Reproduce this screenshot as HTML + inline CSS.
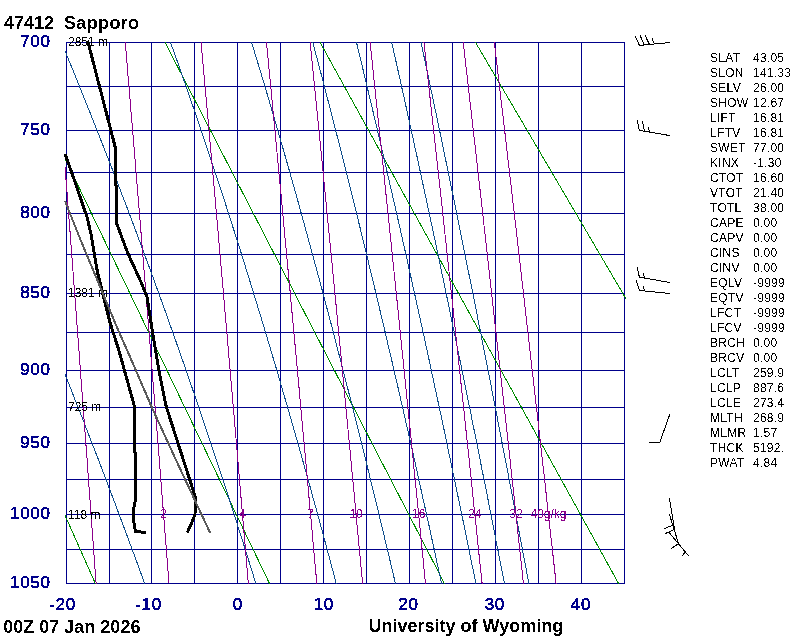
<!DOCTYPE html><html><head><meta charset="utf-8"><title>47412 Sapporo</title><style>
html,body{margin:0;padding:0;background:#fff}body{width:800px;height:640px;position:relative;overflow:hidden;font-family:"Liberation Sans",sans-serif}
.t{position:absolute;white-space:pre;line-height:1}
.b{font-weight:bold;font-size:18px;color:#000}
.a{font-size:17px;color:#00008b;letter-spacing:0.7px;-webkit-text-stroke:0.45px #00008b}
.i{font-size:12px;color:#000;letter-spacing:0.25px}
</style></head><body>
<svg width="800" height="640" viewBox="0 0 800 640" style="position:absolute;left:0;top:0">
<defs><filter id="thr" x="0" y="0" width="100%" height="100%" color-interpolation-filters="sRGB"><feComponentTransfer><feFuncA type="discrete" tableValues="0 1"/></feComponentTransfer></filter><clipPath id="c"><rect x="65" y="42" width="561" height="542"/></clipPath></defs>
<g fill="#00008b" shape-rendering="crispEdges">
<rect x="66" y="42" width="1" height="542"/>
<rect x="109" y="42" width="1" height="542"/>
<rect x="151" y="42" width="1" height="542"/>
<rect x="194" y="42" width="1" height="542"/>
<rect x="237" y="42" width="1" height="542"/>
<rect x="280" y="42" width="1" height="542"/>
<rect x="323" y="42" width="1" height="542"/>
<rect x="366" y="42" width="1" height="542"/>
<rect x="409" y="42" width="1" height="542"/>
<rect x="452" y="42" width="1" height="542"/>
<rect x="495" y="42" width="1" height="542"/>
<rect x="538" y="42" width="1" height="542"/>
<rect x="581" y="42" width="1" height="542"/>
<rect x="624" y="42" width="1" height="542"/>
<rect x="66" y="42" width="559" height="1"/>
<rect x="66" y="86" width="559" height="1"/>
<rect x="66" y="130" width="559" height="1"/>
<rect x="66" y="172" width="559" height="1"/>
<rect x="66" y="213" width="559" height="1"/>
<rect x="66" y="254" width="559" height="1"/>
<rect x="66" y="293" width="559" height="1"/>
<rect x="66" y="332" width="559" height="1"/>
<rect x="66" y="370" width="559" height="1"/>
<rect x="66" y="407" width="559" height="1"/>
<rect x="66" y="443" width="559" height="1"/>
<rect x="66" y="479" width="559" height="1"/>
<rect x="66" y="514" width="559" height="1"/>
<rect x="66" y="549" width="559" height="1"/>
<rect x="66" y="583" width="559" height="1"/>
</g>
<g clip-path="url(#c)" fill="none" stroke-width="1" shape-rendering="crispEdges">
<polyline points="-153.9,24.3 101.3,596.8" stroke="#008b00" stroke-width="1" />
<polyline points="0.5,24.3 275.9,596.8" stroke="#008b00" stroke-width="1" />
<polyline points="155.7,24.3 451.3,596.8" stroke="#008b00" stroke-width="1" />
<polyline points="310.1,24.3 625.9,596.8" stroke="#008b00" stroke-width="1" />
<polyline points="464.9,24.3 800.9,596.8" stroke="#008b00" stroke-width="1" />
<polyline points="619.3,24.3 975.4,596.8" stroke="#008b00" stroke-width="1" />
<polyline points="149.4,596.8 147.0,590.1 144.6,583.4 142.1,576.6 139.7,569.8 137.2,563.1 134.7,556.2 132.2,549.4 129.6,542.6 127.1,535.7 124.5,528.8 121.9,521.8 119.3,514.9 116.7,507.9 114.1,500.9 111.4,493.9 108.7,486.8 106.1,479.7 103.3,472.6 100.6,465.5 97.9,458.3 95.1,451.1 92.3,443.9 89.5,436.7 86.7,429.4 83.9,422.1 81.0,414.8 78.1,407.4 75.2,400.1 72.3,392.7 69.4,385.2 66.4,377.7 63.4,370.2 60.4,362.7 57.4,355.2 54.4,347.6 51.3,340.0 48.3,332.3 45.1,324.6 42.0,316.9 38.9,309.2 35.7,301.4 32.5,293.6 29.3,285.7 26.1,277.9 22.8,270.0 19.5,262.0 16.2,254.0 12.9,246.0 9.6,238.0 6.2,229.9 2.8,221.8 -0.6,213.6 -4.0,205.4 -7.5,197.2 -11.0,189.0 -14.5,180.7 -18.0,172.3 -21.6,163.9 -25.2,155.5 -28.8,147.1 -32.4,138.6 -36.1,130.0 -39.8,121.5 -43.5,112.8 -47.2,104.2 -51.0,95.5 -54.8,86.7 -58.6,77.9 -62.4,69.1 -66.3,60.2 -70.2,51.3 -74.1,42.4 -78.1,33.3 -82.0,24.3" stroke="#104e8b" stroke-width="1" />
<polyline points="259.9,596.8 257.9,590.1 255.8,583.4 253.7,576.6 251.6,569.8 249.5,563.1 247.4,556.2 245.2,549.4 243.1,542.6 240.9,535.7 238.7,528.8 236.5,521.8 234.3,514.9 232.0,507.9 229.8,500.9 227.5,493.9 225.2,486.8 222.9,479.7 220.6,472.6 218.2,465.5 215.9,458.3 213.5,451.1 211.1,443.9 208.7,436.7 206.2,429.4 203.8,422.1 201.3,414.8 198.8,407.4 196.3,400.1 193.8,392.7 191.2,385.2 188.6,377.7 186.1,370.2 183.4,362.7 180.8,355.2 178.1,347.6 175.5,340.0 172.7,332.3 170.0,324.6 167.3,316.9 164.5,309.2 161.7,301.4 158.9,293.6 156.0,285.7 153.2,277.9 150.3,270.0 147.3,262.0 144.4,254.0 141.4,246.0 138.4,238.0 135.4,229.9 132.4,221.8 129.3,213.6 126.2,205.4 123.0,197.2 119.9,189.0 116.7,180.7 113.5,172.3 110.2,163.9 106.9,155.5 103.6,147.1 100.3,138.6 96.9,130.0 93.5,121.5 90.1,112.8 86.6,104.2 83.1,95.5 79.6,86.7 76.1,77.9 72.5,69.1 68.8,60.2 65.2,51.3 61.5,42.4 57.7,33.3 54.0,24.3" stroke="#104e8b" stroke-width="1" />
<polyline points="339.7,596.8 338.0,590.1 336.2,583.4 334.4,576.6 332.6,569.8 330.8,563.1 329.0,556.2 327.1,549.4 325.3,542.6 323.4,535.7 321.6,528.8 319.7,521.8 317.8,514.9 315.9,507.9 313.9,500.9 312.0,493.9 310.1,486.8 308.1,479.7 306.1,472.6 304.1,465.5 302.1,458.3 300.1,451.1 298.1,443.9 296.0,436.7 293.9,429.4 291.8,422.1 289.7,414.8 287.6,407.4 285.5,400.1 283.3,392.7 281.2,385.2 279.0,377.7 276.8,370.2 274.6,362.7 272.3,355.2 270.1,347.6 267.8,340.0 265.5,332.3 263.2,324.6 260.9,316.9 258.5,309.2 256.1,301.4 253.7,293.6 251.3,285.7 248.9,277.9 246.4,270.0 244.0,262.0 241.5,254.0 238.9,246.0 236.4,238.0 233.8,229.9 231.2,221.8 228.6,213.6 226.0,205.4 223.3,197.2 220.6,189.0 217.9,180.7 215.1,172.3 212.4,163.9 209.6,155.5 206.8,147.1 203.9,138.6 201.0,130.0 198.1,121.5 195.2,112.8 192.2,104.2 189.2,95.5 186.2,86.7 183.1,77.9 180.0,69.1 176.9,60.2 173.7,51.3 170.5,42.4 167.3,33.3 164.0,24.3" stroke="#104e8b" stroke-width="1" />
<polyline points="398.5,596.8 396.9,590.1 395.4,583.4 393.8,576.6 392.2,569.8 390.6,563.1 389.0,556.2 387.3,549.4 385.7,542.6 384.1,535.7 382.4,528.8 380.7,521.8 379.1,514.9 377.4,507.9 375.7,500.9 374.0,493.9 372.3,486.8 370.5,479.7 368.8,472.6 367.0,465.5 365.3,458.3 363.5,451.1 361.7,443.9 359.9,436.7 358.1,429.4 356.3,422.1 354.4,414.8 352.6,407.4 350.7,400.1 348.8,392.7 346.9,385.2 345.0,377.7 343.1,370.2 341.2,362.7 339.2,355.2 337.2,347.6 335.3,340.0 333.3,332.3 331.3,324.6 329.2,316.9 327.2,309.2 325.1,301.4 323.1,293.6 321.0,285.7 318.9,277.9 316.7,270.0 314.6,262.0 312.4,254.0 310.2,246.0 308.0,238.0 305.8,229.9 303.6,221.8 301.3,213.6 299.1,205.4 296.8,197.2 294.5,189.0 292.1,180.7 289.8,172.3 287.4,163.9 285.0,155.5 282.6,147.1 280.1,138.6 277.7,130.0 275.2,121.5 272.7,112.8 270.1,104.2 267.6,95.5 265.0,86.7 262.4,77.9 259.7,69.1 257.0,60.2 254.3,51.3 251.6,42.4 248.9,33.3 246.1,24.3" stroke="#104e8b" stroke-width="1" />
<polyline points="444.4,596.8 443.0,590.1 441.5,583.4 440.1,576.6 438.6,569.8 437.1,563.1 435.7,556.2 434.2,549.4 432.7,542.6 431.2,535.7 429.7,528.8 428.2,521.8 426.6,514.9 425.1,507.9 423.5,500.9 422.0,493.9 420.4,486.8 418.8,479.7 417.3,472.6 415.7,465.5 414.1,458.3 412.5,451.1 410.8,443.9 409.2,436.7 407.6,429.4 405.9,422.1 404.2,414.8 402.6,407.4 400.9,400.1 399.2,392.7 397.5,385.2 395.7,377.7 394.0,370.2 392.3,362.7 390.5,355.2 388.7,347.6 387.0,340.0 385.2,332.3 383.4,324.6 381.5,316.9 379.7,309.2 377.9,301.4 376.0,293.6 374.1,285.7 372.2,277.9 370.3,270.0 368.4,262.0 366.5,254.0 364.6,246.0 362.6,238.0 360.6,229.9 358.6,221.8 356.6,213.6 354.6,205.4 352.6,197.2 350.5,189.0 348.4,180.7 346.4,172.3 344.2,163.9 342.1,155.5 340.0,147.1 337.8,138.6 335.6,130.0 333.4,121.5 331.2,112.8 329.0,104.2 326.7,95.5 324.5,86.7 322.2,77.9 319.8,69.1 317.5,60.2 315.1,51.3 312.8,42.4 310.4,33.3 307.9,24.3" stroke="#104e8b" stroke-width="1" />
<polyline points="478.5,596.8 477.2,590.1 475.8,583.4 474.5,576.6 473.1,569.8 471.7,563.1 470.3,556.2 468.9,549.4 467.5,542.6 466.1,535.7 464.7,528.8 463.3,521.8 461.8,514.9 460.4,507.9 458.9,500.9 457.5,493.9 456.0,486.8 454.5,479.7 453.0,472.6 451.6,465.5 450.0,458.3 448.5,451.1 447.0,443.9 445.5,436.7 444.0,429.4 442.4,422.1 440.9,414.8 439.3,407.4 437.7,400.1 436.1,392.7 434.5,385.2 432.9,377.7 431.3,370.2 429.7,362.7 428.1,355.2 426.4,347.6 424.8,340.0 423.1,332.3 421.4,324.6 419.7,316.9 418.0,309.2 416.3,301.4 414.6,293.6 412.8,285.7 411.1,277.9 409.3,270.0 407.6,262.0 405.8,254.0 404.0,246.0 402.2,238.0 400.4,229.9 398.5,221.8 396.7,213.6 394.8,205.4 392.9,197.2 391.0,189.0 389.1,180.7 387.2,172.3 385.3,163.9 383.3,155.5 381.4,147.1 379.4,138.6 377.4,130.0 375.4,121.5 373.3,112.8 371.3,104.2 369.2,95.5 367.1,86.7 365.0,77.9 362.9,69.1 360.8,60.2 358.6,51.3 356.5,42.4 354.3,33.3 352.1,24.3" stroke="#104e8b" stroke-width="1" />
<polyline points="507.0,596.8 505.7,590.1 504.4,583.4 503.1,576.6 501.8,569.8 500.4,563.1 499.1,556.2 497.8,549.4 496.4,542.6 495.1,535.7 493.7,528.8 492.4,521.8 491.0,514.9 489.6,507.9 488.3,500.9 486.9,493.9 485.5,486.8 484.1,479.7 482.6,472.6 481.2,465.5 479.8,458.3 478.4,451.1 476.9,443.9 475.5,436.7 474.0,429.4 472.5,422.1 471.1,414.8 469.6,407.4 468.1,400.1 466.6,392.7 465.1,385.2 463.5,377.7 462.0,370.2 460.5,362.7 458.9,355.2 457.4,347.6 455.8,340.0 454.2,332.3 452.6,324.6 451.0,316.9 449.4,309.2 447.8,301.4 446.2,293.6 444.5,285.7 442.9,277.9 441.2,270.0 439.6,262.0 437.9,254.0 436.2,246.0 434.5,238.0 432.8,229.9 431.0,221.8 429.3,213.6 427.5,205.4 425.8,197.2 424.0,189.0 422.2,180.7 420.4,172.3 418.6,163.9 416.8,155.5 414.9,147.1 413.1,138.6 411.2,130.0 409.3,121.5 407.4,112.8 405.5,104.2 403.6,95.5 401.6,86.7 399.7,77.9 397.7,69.1 395.7,60.2 393.7,51.3 391.7,42.4 389.6,33.3 387.6,24.3" stroke="#104e8b" stroke-width="1" />
<polyline points="531.3,596.8 530.0,590.1 528.8,583.4 527.5,576.6 526.3,569.8 525.0,563.1 523.7,556.2 522.4,549.4 521.1,542.6 519.8,535.7 518.5,528.8 517.2,521.8 515.9,514.9 514.6,507.9 513.2,500.9 511.9,493.9 510.6,486.8 509.2,479.7 507.9,472.6 506.5,465.5 505.1,458.3 503.7,451.1 502.3,443.9 500.9,436.7 499.5,429.4 498.1,422.1 496.7,414.8 495.3,407.4 493.8,400.1 492.4,392.7 491.0,385.2 489.5,377.7 488.0,370.2 486.5,362.7 485.1,355.2 483.6,347.6 482.1,340.0 480.6,332.3 479.0,324.6 477.5,316.9 476.0,309.2 474.4,301.4 472.9,293.6 471.3,285.7 469.7,277.9 468.1,270.0 466.5,262.0 464.9,254.0 463.3,246.0 461.7,238.0 460.0,229.9 458.4,221.8 456.7,213.6 455.1,205.4 453.4,197.2 451.7,189.0 450.0,180.7 448.3,172.3 446.5,163.9 444.8,155.5 443.0,147.1 441.3,138.6 439.5,130.0 437.7,121.5 435.9,112.8 434.1,104.2 432.3,95.5 430.4,86.7 428.5,77.9 426.7,69.1 424.8,60.2 422.9,51.3 421.0,42.4 419.0,33.3 417.1,24.3" stroke="#104e8b" stroke-width="1" />
<polyline points="54.0,24.3 55.4,42.4 56.8,60.2 58.2,77.9 59.6,95.5 60.9,112.8 62.2,130.0 63.5,147.1 64.8,163.9 66.1,180.7 67.4,197.2 68.6,213.6 69.9,229.9 71.1,246.0 72.3,262.0 73.5,277.9 74.7,293.6 75.9,309.2 77.0,324.6 78.2,340.0 79.3,355.2 80.4,370.2 81.5,385.2 82.6,400.1 83.7,414.8 84.8,429.4 85.9,443.9 87.0,458.3 88.0,472.6 89.0,486.8 90.1,500.9 91.1,514.9 92.1,528.8 93.1,542.6 94.1,556.2 95.1,569.8 96.1,583.4 97.1,596.8" stroke="#8b008b" stroke-width="1" />
<polyline points="123.7,24.3 125.3,42.4 126.8,60.2 128.2,77.9 129.7,95.5 131.1,112.8 132.6,130.0 134.0,147.1 135.4,163.9 136.7,180.7 138.1,197.2 139.5,213.6 140.8,229.9 142.1,246.0 143.4,262.0 144.7,277.9 146.0,293.6 147.2,309.2 148.5,324.6 149.7,340.0 150.9,355.2 152.1,370.2 153.3,385.2 154.5,400.1 155.7,414.8 156.9,429.4 158.0,443.9 159.2,458.3 160.3,472.6 161.4,486.8 162.5,500.9 163.6,514.9 164.7,528.8 165.8,542.6 166.9,556.2 167.9,569.8 169.0,583.4 170.0,596.8" stroke="#8b008b" stroke-width="1" />
<polyline points="199.5,24.3 201.1,42.4 202.7,60.2 204.3,77.9 205.9,95.5 207.5,112.8 209.0,130.0 210.5,147.1 212.0,163.9 213.5,180.7 215.0,197.2 216.4,213.6 217.9,229.9 219.3,246.0 220.7,262.0 222.1,277.9 223.5,293.6 224.8,309.2 226.2,324.6 227.5,340.0 228.8,355.2 230.1,370.2 231.4,385.2 232.7,400.1 234.0,414.8 235.2,429.4 236.5,443.9 237.7,458.3 238.9,472.6 240.1,486.8 241.3,500.9 242.5,514.9 243.7,528.8 244.9,542.6 246.0,556.2 247.2,569.8 248.3,583.4 249.5,596.8" stroke="#8b008b" stroke-width="1" />
<polyline points="264.7,24.3 266.5,42.4 268.2,60.2 269.9,77.9 271.6,95.5 273.2,112.8 274.9,130.0 276.5,147.1 278.1,163.9 279.7,180.7 281.3,197.2 282.8,213.6 284.3,229.9 285.8,246.0 287.3,262.0 288.8,277.9 290.3,293.6 291.7,309.2 293.2,324.6 294.6,340.0 296.0,355.2 297.4,370.2 298.8,385.2 300.1,400.1 301.5,414.8 302.8,429.4 304.2,443.9 305.5,458.3 306.8,472.6 308.1,486.8 309.3,500.9 310.6,514.9 311.9,528.8 313.1,542.6 314.3,556.2 315.6,569.8 316.8,583.4 318.0,596.8" stroke="#8b008b" stroke-width="1" />
<polyline points="308.3,24.3 310.1,42.4 311.9,60.2 313.7,77.9 315.5,95.5 317.2,112.8 318.9,130.0 320.6,147.1 322.3,163.9 323.9,180.7 325.5,197.2 327.1,213.6 328.7,229.9 330.3,246.0 331.9,262.0 333.4,277.9 334.9,293.6 336.5,309.2 337.9,324.6 339.4,340.0 340.9,355.2 342.3,370.2 343.8,385.2 345.2,400.1 346.6,414.8 348.0,429.4 349.4,443.9 350.8,458.3 352.1,472.6 353.5,486.8 354.8,500.9 356.1,514.9 357.4,528.8 358.7,542.6 360.0,556.2 361.3,569.8 362.6,583.4 363.8,596.8" stroke="#8b008b" stroke-width="1" />
<polyline points="368.2,24.3 370.1,42.4 372.0,60.2 373.8,77.9 375.7,95.5 377.5,112.8 379.3,130.0 381.1,147.1 382.9,163.9 384.6,180.7 386.3,197.2 388.0,213.6 389.7,229.9 391.4,246.0 393.0,262.0 394.7,277.9 396.3,293.6 397.9,309.2 399.5,324.6 401.0,340.0 402.6,355.2 404.1,370.2 405.6,385.2 407.1,400.1 408.6,414.8 410.1,429.4 411.6,443.9 413.0,458.3 414.4,472.6 415.9,486.8 417.3,500.9 418.7,514.9 420.1,528.8 421.4,542.6 422.8,556.2 424.1,569.8 425.5,583.4 426.8,596.8" stroke="#8b008b" stroke-width="1" />
<polyline points="421.9,24.3 423.9,42.4 425.9,60.2 427.9,77.9 429.8,95.5 431.7,112.8 433.6,130.0 435.5,147.1 437.3,163.9 439.2,180.7 441.0,197.2 442.8,213.6 444.5,229.9 446.3,246.0 448.0,262.0 449.7,277.9 451.4,293.6 453.1,309.2 454.7,324.6 456.4,340.0 458.0,355.2 459.6,370.2 461.2,385.2 462.8,400.1 464.4,414.8 465.9,429.4 467.4,443.9 469.0,458.3 470.5,472.6 472.0,486.8 473.4,500.9 474.9,514.9 476.4,528.8 477.8,542.6 479.2,556.2 480.7,569.8 482.1,583.4 483.5,596.8" stroke="#8b008b" stroke-width="1" />
<polyline points="461.1,24.3 463.2,42.4 465.3,60.2 467.3,77.9 469.3,95.5 471.3,112.8 473.2,130.0 475.2,147.1 477.1,163.9 479.0,180.7 480.9,197.2 482.7,213.6 484.5,229.9 486.4,246.0 488.1,262.0 489.9,277.9 491.7,293.6 493.4,309.2 495.1,324.6 496.8,340.0 498.5,355.2 500.2,370.2 501.8,385.2 503.5,400.1 505.1,414.8 506.7,429.4 508.3,443.9 509.9,458.3 511.4,472.6 513.0,486.8 514.5,500.9 516.0,514.9 517.5,528.8 519.0,542.6 520.5,556.2 522.0,569.8 523.4,583.4 524.9,596.8" stroke="#8b008b" stroke-width="1" />
<polyline points="492.1,24.3 494.3,42.4 496.4,60.2 498.5,77.9 500.5,95.5 502.6,112.8 504.6,130.0 506.6,147.1 508.5,163.9 510.5,180.7 512.4,197.2 514.3,213.6 516.2,229.9 518.0,246.0 519.9,262.0 521.7,277.9 523.5,293.6 525.3,309.2 527.0,324.6 528.8,340.0 530.5,355.2 532.2,370.2 533.9,385.2 535.6,400.1 537.3,414.8 538.9,429.4 540.5,443.9 542.2,458.3 543.8,472.6 545.4,486.8 546.9,500.9 548.5,514.9 550.0,528.8 551.6,542.6 553.1,556.2 554.6,569.8 556.1,583.4 557.6,596.8" stroke="#8b008b" stroke-width="1" />
</g>
<g font-family="Liberation Sans, sans-serif" font-size="12" fill="#8b008b" text-anchor="middle" filter="url(#thr)">
<text x="163.6" y="517.8">2</text>
<text x="242.5" y="517.8">4</text>
<text x="310.6" y="517.8">7</text>
<text x="356.1" y="517.8">10</text>
<text x="418.7" y="517.8">16</text>
<text x="474.9" y="517.8">24</text>
<text x="516.0" y="517.8">32</text>
<text x="548.5" y="517.8">40g/kg</text>
</g>
<g font-family="Liberation Sans, sans-serif" font-size="12" fill="#000" filter="url(#thr)">
<text x="68" y="46.1">2851 m</text>
<text x="68" y="297.3">1381 m</text>
<text x="68" y="411.1">725 m</text>
<text x="68" y="518.6">118 m</text>
</g>
<g fill="none" shape-rendering="crispEdges" stroke-linejoin="round">
<polyline points="87.6,40.5 115.7,149.0 115.7,185.0 116.7,186.0 116.7,223.5 127.5,252.5 141.2,282.5 147.0,297.0 153.8,340.0 158.8,370.0 166.2,406.5 195.3,497.0 195.0,514.5 192.7,520.5 187.2,532.8" stroke="#000" stroke-width="3" />
<polyline points="65.0,153.8 75.0,181.9 84.5,210.0 87.2,217.5 91.2,235.0 97.5,272.5 110.0,322.5 118.8,350.0 134.5,406.5 134.5,452.0 135.4,453.0 135.4,500.5 133.6,509.0 133.6,520.0 134.6,527.0 135.6,531.5 145.8,532.5" stroke="#000" stroke-width="3" />
<polyline points="65.0,201.0 80.6,240.0 118.1,330.0 127.5,351.0 151.9,407.5 176.0,460.0 201.3,514.0 210.2,533.0" stroke="#5a5a5a" stroke-width="2" />
</g>
<g fill="none" stroke="#000" stroke-width="1" shape-rendering="crispEdges">
<line x1="670.0" y1="42.5" x2="639.4" y2="45.4"/>
<line x1="639.4" y1="45.4" x2="635.2" y2="36.0"/>
<line x1="644.4" y1="45.0" x2="640.0" y2="35.2"/>
<line x1="649.4" y1="44.4" x2="645.0" y2="35.2"/>
<line x1="654.4" y1="43.8" x2="651.9" y2="38.1"/>
<line x1="670.0" y1="135.6" x2="639.4" y2="130.4"/>
<line x1="639.4" y1="130.4" x2="637.2" y2="120.0"/>
<line x1="644.4" y1="131.2" x2="642.5" y2="121.2"/>
<line x1="649.4" y1="132.1" x2="648.5" y2="127.2"/>
<line x1="670.0" y1="282.5" x2="639.4" y2="277.2"/>
<line x1="639.4" y1="277.2" x2="637.2" y2="267.2"/>
<line x1="644.4" y1="277.9" x2="643.4" y2="273.1"/>
<line x1="670.0" y1="293.5" x2="639.4" y2="290.4"/>
<line x1="639.4" y1="290.4" x2="636.2" y2="280.2"/>
<line x1="644.4" y1="290.9" x2="643.4" y2="286.0"/>
<line x1="669.8" y1="414.4" x2="659.8" y2="442.2"/>
<line x1="659.8" y1="442.2" x2="649.0" y2="442.2"/>
<line x1="669.4" y1="498.2" x2="674.5" y2="529.4"/>
<line x1="674.5" y1="529.4" x2="665.4" y2="533.5"/>
<line x1="673.6" y1="525.0" x2="664.3" y2="528.5"/>
<line x1="669.4" y1="514.3" x2="678.5" y2="543.6"/>
<line x1="678.5" y1="543.6" x2="671.4" y2="548.5"/>
<line x1="668.7" y1="532.1" x2="688.4" y2="555.6"/>
<line x1="685.6" y1="551.8" x2="682.4" y2="555.6"/>
</g>
</svg>
<div id="tx" style="position:absolute;left:0;top:0;width:800px;height:640px;filter:url(#thr)">
<div class="t b" style="left:4.0px;top:14.1px">47412</div>
<div class="t b" style="left:64.0px;top:14.1px"><span style="letter-spacing:0.35px">Sapporo</span></div>
<div class="t b" style="left:3.3px;top:617.6px">00Z 07 Jan 2026</div>
<div class="t b" style="left:368.5px;top:617.4px">University of Wyoming</div>
<div class="t a" style="right:749.4px;top:32.8px">700</div>
<div class="t a" style="right:749.4px;top:120.5px">750</div>
<div class="t a" style="right:749.4px;top:204.1px">800</div>
<div class="t a" style="right:749.4px;top:284.1px">850</div>
<div class="t a" style="right:749.4px;top:360.7px">900</div>
<div class="t a" style="right:749.4px;top:434.4px">950</div>
<div class="t a" style="right:749.4px;top:505.4px">1000</div>
<div class="t a" style="right:749.4px;top:573.8px">1050</div>
<div class="t a" style="left:12.5px;top:595.9px;width:100px;text-align:center">-20</div>
<div class="t a" style="left:98.5px;top:595.9px;width:100px;text-align:center">-10</div>
<div class="t a" style="left:187.9px;top:595.9px;width:100px;text-align:center">0</div>
<div class="t a" style="left:273.8px;top:595.9px;width:100px;text-align:center">10</div>
<div class="t a" style="left:358.5px;top:595.9px;width:100px;text-align:center">20</div>
<div class="t a" style="left:444.8px;top:595.9px;width:100px;text-align:center">30</div>
<div class="t a" style="left:531.0px;top:595.9px;width:100px;text-align:center">40</div>
<div class="t i" style="left:710.1px;top:52.0px">SLAT</div>
<div class="t i" style="left:753.0px;top:52.0px">43.05</div>
<div class="t i" style="left:710.1px;top:67.0px">SLON</div>
<div class="t i" style="left:753.0px;top:67.0px">141.33</div>
<div class="t i" style="left:710.1px;top:82.0px">SELV</div>
<div class="t i" style="left:753.0px;top:82.0px">26.00</div>
<div class="t i" style="left:710.1px;top:97.0px">SHOW</div>
<div class="t i" style="left:753.0px;top:97.0px">12.67</div>
<div class="t i" style="left:710.1px;top:112.0px">LIFT</div>
<div class="t i" style="left:753.0px;top:112.0px">16.81</div>
<div class="t i" style="left:710.1px;top:127.0px">LFTV</div>
<div class="t i" style="left:753.0px;top:127.0px">16.81</div>
<div class="t i" style="left:710.1px;top:142.0px">SWET</div>
<div class="t i" style="left:753.0px;top:142.0px">77.00</div>
<div class="t i" style="left:710.1px;top:157.0px">KINX</div>
<div class="t i" style="left:753.0px;top:157.0px">-1.30</div>
<div class="t i" style="left:710.1px;top:172.0px">CTOT</div>
<div class="t i" style="left:753.0px;top:172.0px">16.60</div>
<div class="t i" style="left:710.1px;top:187.0px">VTOT</div>
<div class="t i" style="left:753.0px;top:187.0px">21.40</div>
<div class="t i" style="left:710.1px;top:202.0px">TOTL</div>
<div class="t i" style="left:753.0px;top:202.0px">38.00</div>
<div class="t i" style="left:710.1px;top:217.0px">CAPE</div>
<div class="t i" style="left:753.0px;top:217.0px">0.00</div>
<div class="t i" style="left:710.1px;top:232.0px">CAPV</div>
<div class="t i" style="left:753.0px;top:232.0px">0.00</div>
<div class="t i" style="left:710.1px;top:247.0px">CINS</div>
<div class="t i" style="left:753.0px;top:247.0px">0.00</div>
<div class="t i" style="left:710.1px;top:262.0px">CINV</div>
<div class="t i" style="left:753.0px;top:262.0px">0.00</div>
<div class="t i" style="left:710.1px;top:277.0px">EQLV</div>
<div class="t i" style="left:753.0px;top:277.0px">-9999</div>
<div class="t i" style="left:710.1px;top:292.0px">EQTV</div>
<div class="t i" style="left:753.0px;top:292.0px">-9999</div>
<div class="t i" style="left:710.1px;top:307.0px">LFCT</div>
<div class="t i" style="left:753.0px;top:307.0px">-9999</div>
<div class="t i" style="left:710.1px;top:322.0px">LFCV</div>
<div class="t i" style="left:753.0px;top:322.0px">-9999</div>
<div class="t i" style="left:710.1px;top:337.0px">BRCH</div>
<div class="t i" style="left:753.0px;top:337.0px">0.00</div>
<div class="t i" style="left:710.1px;top:352.0px">BRCV</div>
<div class="t i" style="left:753.0px;top:352.0px">0.00</div>
<div class="t i" style="left:710.1px;top:367.0px">LCLT</div>
<div class="t i" style="left:753.0px;top:367.0px">259.9</div>
<div class="t i" style="left:710.1px;top:382.0px">LCLP</div>
<div class="t i" style="left:753.0px;top:382.0px">887.6</div>
<div class="t i" style="left:710.1px;top:397.0px">LCLE</div>
<div class="t i" style="left:753.0px;top:397.0px">273.4</div>
<div class="t i" style="left:710.1px;top:412.0px">MLTH</div>
<div class="t i" style="left:753.0px;top:412.0px">268.9</div>
<div class="t i" style="left:710.1px;top:427.0px">MLMR</div>
<div class="t i" style="left:753.0px;top:427.0px">1.57</div>
<div class="t i" style="left:710.1px;top:442.0px">THCK</div>
<div class="t i" style="left:753.0px;top:442.0px">5192.</div>
<div class="t i" style="left:710.1px;top:457.0px">PWAT</div>
<div class="t i" style="left:753.0px;top:457.0px">4.84</div>
</div></body></html>
